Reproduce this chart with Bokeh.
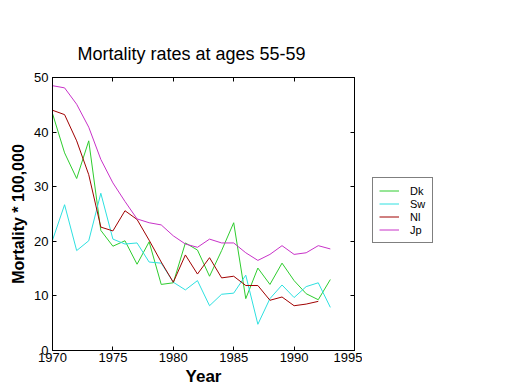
from bokeh.plotting import figure
from bokeh.layouts import row
from bokeh.models import Range1d, LinearAxis, FixedTicker, Legend, LegendItem
from bokeh.embed import file_html
from bokeh.resources import INLINE

# ---- data ----
years = list(range(1970, 1994))
dk = [43.4, 36.2, 31.5, 38.4, 22.0, 19.1, 20.1, 15.8, 19.9, 12.1, 12.4, 19.7,
      18.4, 13.6, 18.3, 23.4, 9.5, 15.1, 12.1, 16.0, 12.8, 10.4, 9.3, 13.0]
sw = [20.2, 26.7, 18.3, 20.1, 28.8, 20.4, 19.5, 19.7, 16.2, 16.0, 12.5, 11.1,
      12.8, 8.2, 10.3, 10.5, 13.8, 4.8, 9.5, 12.0, 9.7, 11.7, 12.4, 7.9]
nl = [44.0, 43.2, 38.4, 32.2, 22.6, 21.9, 25.6, 24.0, 20.2, 16.2, 12.5, 17.5,
      14.0, 17.0, 13.3, 13.6, 11.9, 11.9, 9.2, 9.8, 8.2, 8.5, 9.0]
jp = [48.5, 48.1, 45.1, 40.9, 35.0, 30.7, 27.3, 24.1, 23.4, 23.0, 21.0, 19.5,
      18.9, 20.4, 19.7, 19.7, 17.9, 16.5, 17.6, 19.2, 17.6, 17.9, 19.2, 18.6]
series_names = ["Dk", "Sw", "Nl", "Jp"]
series_values = [dk, sw, nl, jp]
colors = ["#2ecc2e", "#2ee0e0", "#a00000", "#c832c8"]
x_ticks = [1970, 1975, 1980, 1985, 1990, 1995]
y_ticks = [0, 10, 20, 30, 40, 50]
title_text = "Mortality rates at ages 55-59"
x_label = "Year"
y_label = "Mortality * 100,000"

FONT = "Liberation Sans"
H = 388

p = figure(width=362, height=H, output_backend="svg", toolbar_location=None,
           x_range=Range1d(1970, 1995), y_range=Range1d(0, 50),
           min_border_left=52, min_border_right=8, min_border_top=77,
           min_border_bottom=H - 350, title=title_text,
           x_axis_label=x_label, y_axis_label=y_label)
p.grid.visible = False
p.background_fill_color = "white"
p.border_fill_color = "white"
p.outline_line_color = "black"
p.outline_line_width = 1

p.title.text_font = FONT
p.title.text_font_size = "18px"
p.title.text_font_style = "normal"
p.title.text_color = "black"
p.title.align = "left"
p.title.offset = 25
p.title.standoff = 27


def style_axis(ax, ticks, labels=True):
    ax.ticker = FixedTicker(ticks=ticks)
    ax.major_tick_in = 4
    ax.major_tick_out = 0
    ax.minor_tick_in = 0
    ax.minor_tick_out = 0
    ax.axis_line_color = "black"
    ax.major_tick_line_color = "black"
    ax.major_label_text_font = FONT
    ax.major_label_text_color = "black"
    if labels:
        ax.major_label_text_font_size = "13px"
    else:
        ax.major_label_text_font_size = "0px"
        ax.major_label_standoff = 0


style_axis(p.xaxis[0], x_ticks)
style_axis(p.yaxis[0], y_ticks)
p.xaxis[0].major_label_standoff = 2
p.yaxis[0].major_label_standoff = 4
for ax in (p.xaxis[0], p.yaxis[0]):
    ax.axis_label_text_font = FONT
    ax.axis_label_text_font_style = "bold"
    ax.axis_label_text_color = "black"
p.xaxis[0].axis_label_text_font_size = "17px"
p.xaxis[0].axis_label_standoff = 2
p.yaxis[0].axis_label_text_font_size = "16px"
p.yaxis[0].axis_label_standoff = 4

top_ax = LinearAxis()
style_axis(top_ax, x_ticks, labels=False)
p.add_layout(top_ax, "above")
right_ax = LinearAxis()
style_axis(right_ax, y_ticks, labels=False)
p.add_layout(right_ax, "right")

for name, vals, col in zip(series_names, series_values, colors):
    p.line(years[:len(vals)], vals, line_color=col, line_width=1)

# legend panel (separate figure to the right of the axes; its frame is
# aligned with the main frame by the row layout)
lf = figure(width=150, height=H, output_backend="svg", toolbar_location=None,
            x_axis_type=None, y_axis_type=None, title=None,
            x_range=Range1d(1, 2), y_range=Range1d(1, 2),
            min_border_left=0, min_border_right=0, min_border_top=0,
            min_border_bottom=0)
lf.grid.visible = False
lf.outline_line_color = None
lf.background_fill_color = "white"
lf.border_fill_color = "white"
items = []
for name, col in zip(series_names, colors):
    # single-point placeholder renderer, used only for the legend swatch
    r = lf.line([0], [0], line_color=col, line_width=1)
    items.append(LegendItem(label=name, renderers=[r]))

legend = Legend(items=items, location=(10, 107))
legend.label_text_font = FONT
legend.label_text_font_size = "11px"
legend.label_text_color = "black"
legend.glyph_width = 20
legend.glyph_height = 13
legend.label_height = 13
legend.label_width = 16
legend.label_standoff = 11
legend.spacing = 0
legend.padding = 6
legend.margin = 0
legend.border_line_color = "black"
legend.border_line_width = 1
legend.background_fill_color = "white"
legend.background_fill_alpha = 1
lf.add_layout(legend, "center")

layout = row(p, lf)
open("out.html", "w").write(file_html(layout, INLINE))
